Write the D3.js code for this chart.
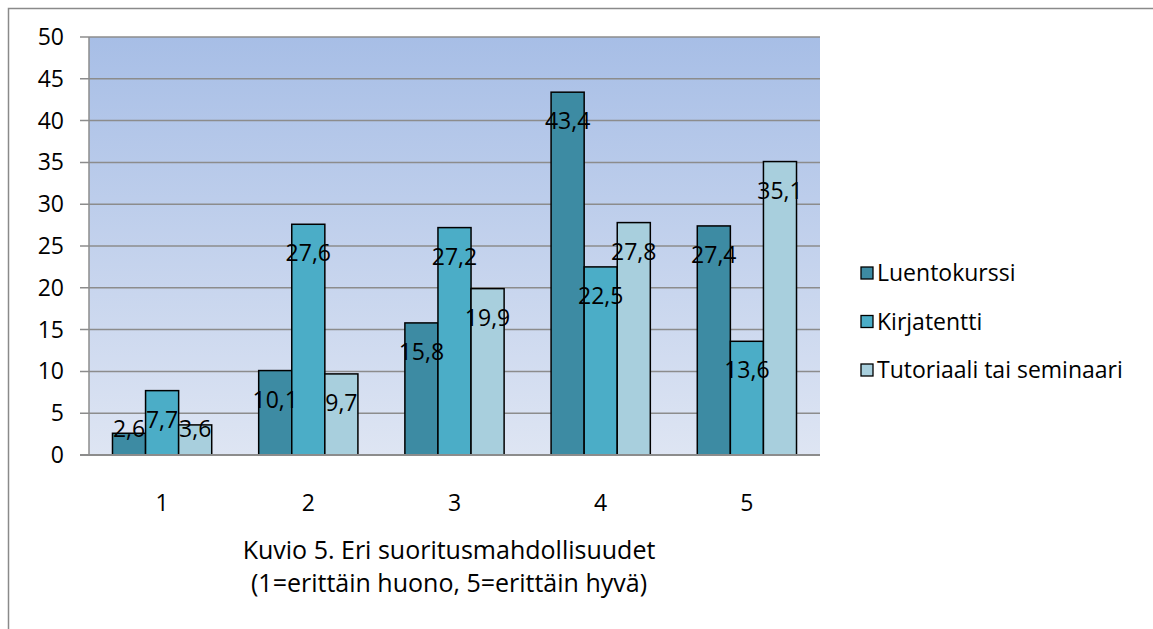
<!DOCTYPE html>
<html>
<head>
<meta charset="utf-8">
<script src="https://cdn.jsdelivr.net/npm/d3@7"></script>
<style>
  html, body { margin: 0; background: #fff; overflow: hidden; }
  svg { display: block; }
  text { font-family: 'Open Sans', Lato, sans-serif; fill: #000; }
</style>
</head>
<body>
<svg id="chart" width="1153" height="629"></svg>
<script>
const categories = ['1', '2', '3', '4', '5']
const seriesNames = ['Luentokurssi', 'Kirjatentti', 'Tutoriaali tai seminaari']
const luentokurssi = [2.6, 10.1, 15.8, 43.4, 27.4]
const kirjatentti = [7.7, 27.6, 27.2, 22.5, 13.6]
const tutoriaali = [3.6, 9.7, 19.9, 27.8, 35.1]
const yTicks = [0, 5, 10, 15, 20, 25, 30, 35, 40, 45, 50]
const colors = ['#3D8BA3', '#4BADC7', '#A8CFDD']
const captionLines = ['Kuvio 5. Eri suoritusmahdollisuudet', '(1=erittäin huono, 5=erittäin hyvä)']

const series = [luentokurssi, kirjatentti, tutoriaali]
const svg = d3.select('#chart')

// outer frame: only the left and top edges are in the picture
svg.append('path')
  .attr('d', 'M8.5,629 L8.5,8.5 L1153,8.5')
  .attr('fill', 'none').attr('stroke', '#8a8a8a').attr('stroke-width', 1.5)

const plot = { left: 89, right: 820, top: 37, bottom: 455 }

const x = d3.scaleBand().domain(categories).range([plot.left, plot.right])
const xInner = d3.scaleBand().domain(d3.range(series.length))
  .range([0, x.bandwidth()]).paddingOuter(0.71)
const y = d3.scaleLinear().domain([0, 50]).range([plot.bottom, plot.top])

// background gradient
const grad = svg.append('defs').append('linearGradient')
  .attr('id', 'bg').attr('x1', 0).attr('y1', 0).attr('x2', 0).attr('y2', 1)
grad.append('stop').attr('offset', '0%').attr('stop-color', '#A7BEE6')
grad.append('stop').attr('offset', '100%').attr('stop-color', '#DEE5F3')

svg.append('rect')
  .attr('x', plot.left).attr('y', plot.top)
  .attr('width', plot.right - plot.left).attr('height', plot.bottom - plot.top)
  .attr('fill', 'url(#bg)')

// gridlines + tick marks
svg.append('g')
  .selectAll('line')
  .data(yTicks.filter((d) => d > 0))
  .join('line')
  .attr('x1', plot.left - 9).attr('x2', plot.right)
  .attr('y1', (d) => y(d)).attr('y2', (d) => y(d))
  .attr('stroke', '#8c8c8c').attr('stroke-width', 1.5)

// y axis labels
svg.append('g')
  .selectAll('text')
  .data(yTicks)
  .join('text')
  .attr('x', 64).attr('y', (d) => y(d))
  .attr('dy', '0.35em')
  .attr('text-anchor', 'end')
  .attr('font-size', 23)
  .text((d) => d)

// bars
categories.forEach((cat, ci) => {
  series.forEach((vals, si) => {
    const bx = x(cat) + xInner(si)
    svg.append('rect')
      .attr('x', bx).attr('y', y(vals[ci]))
      .attr('width', xInner.bandwidth())
      .attr('height', y(0) - y(vals[ci]))
      .attr('fill', colors[si])
      .attr('stroke', '#000').attr('stroke-width', 1.5)
  })
})

// axes lines
svg.append('line')
  .attr('x1', plot.left).attr('x2', plot.left)
  .attr('y1', plot.top).attr('y2', plot.bottom)
  .attr('stroke', '#8c8c8c').attr('stroke-width', 1.5)
svg.append('line')
  .attr('x1', plot.left - 9).attr('x2', plot.right)
  .attr('y1', plot.bottom).attr('y2', plot.bottom)
  .attr('stroke', '#8c8c8c').attr('stroke-width', 2)

// value labels (inside end, clamped for short bars)
categories.forEach((cat, ci) => {
  series.forEach((vals, si) => {
    const cx = x(cat) + xInner(si) + xInner.bandwidth() / 2
    const ly = Math.min(y(vals[ci]) + 29, y(0) - 26)
    svg.append('text')
      .attr('x', cx).attr('y', ly)
      .attr('dy', '0.35em')
      .attr('text-anchor', 'middle')
      .attr('font-size', 23)
      .text(String(vals[ci]).replace('.', ','))
  })
})

// x labels
svg.append('g')
  .selectAll('text')
  .data(categories)
  .join('text')
  .attr('x', (d) => x(d) + x.bandwidth() / 2)
  .attr('y', 503)
  .attr('dy', '0.35em')
  .attr('text-anchor', 'middle')
  .attr('font-size', 23)
  .text((d) => d)

// legend
const legend = svg.append('g')
seriesNames.forEach((name, i) => {
  const ly = 273 + i * 48.5
  legend.append('rect')
    .attr('x', 861).attr('y', ly - 6)
    .attr('width', 12).attr('height', 12)
    .attr('fill', colors[i]).attr('stroke', '#000').attr('stroke-width', 1.3)
  legend.append('text')
    .attr('x', 877).attr('y', ly)
    .attr('dy', '0.35em')
    .attr('font-size', 23)
    .text(name)
})

// caption
captionLines.forEach((line, i) => {
  svg.append('text')
    .attr('x', 449).attr('y', 550 + i * 33)
    .attr('dy', '0.35em')
    .attr('text-anchor', 'middle')
    .attr('font-size', 25)
    .text(line)
})
</script>
</body>
</html>
